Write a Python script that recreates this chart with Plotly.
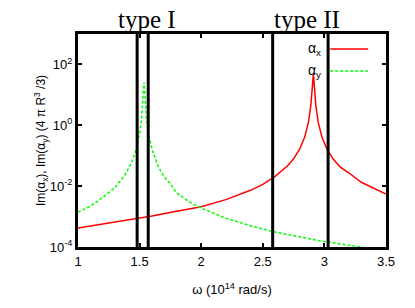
import plotly.graph_objects as go

# ---- data ----
omega_x = [1.0, 1.2, 1.4, 1.6, 1.8, 2.0, 2.2, 2.4, 2.5, 2.6, 2.7, 2.75, 2.8, 2.84, 2.87,
           2.89, 2.90, 2.905, 2.91, 2.915, 2.92, 2.93, 2.95, 2.98, 3.02, 3.07, 3.13,
           3.2, 3.3, 3.4, 3.5]
im_alpha_x = [4.2e-4, 5.6e-4, 7.6e-4, 1.05e-3, 1.5e-3, 2.1e-3, 3.6e-3, 7.3e-3, 1.15e-2,
              2.1e-2, 4.6e-2, 7.9e-2, 0.167, 0.41, 1.24, 4.6, 14.3, 30, 48, 30, 14.3,
              4.6, 1.24, 0.41, 0.167, 0.079, 0.042, 0.027, 0.0134, 8.5e-3, 5.5e-3]

omega_y = [1.0, 1.1, 1.2, 1.3, 1.38, 1.43, 1.47, 1.5, 1.515, 1.525, 1.531, 1.536, 1.541,
           1.547, 1.557, 1.572, 1.6, 1.65, 1.7, 1.75, 1.8, 1.9, 2.0, 2.2, 2.4, 2.6, 2.8,
           3.0, 3.2, 3.3, 3.4, 3.5]
im_alpha_y = [1.4e-3, 2.2e-3, 4.2e-3, 9e-3, 2.3e-2, 5.4e-2, 0.15, 0.53, 1.5, 4.7, 13.5,
              26, 13.5, 4.7, 1.5, 0.53, 0.17, 0.045, 0.02, 0.012, 6e-3, 3.1e-3, 1.9e-3,
              8.8e-4, 5.0e-4, 3.1e-4, 2.1e-4, 1.5e-4, 1.15e-4, 1.0e-4, 8.5e-5, 7.3e-5]

region_bounds = [1.48, 1.57, 2.58, 3.03]
region_labels = ["type I", "type II"]
region_label_pos = [1.56, 2.86]

x_ticks = [1, 1.5, 2, 2.5, 3, 3.5]
x_ticktext = ["1", "1.5", "2", "2.5", "3", "3.5"]
y_ticks = [1e-4, 1e-2, 1, 1e2]
y_ticktext = ["10<sup>-4</sup>", "10<sup>-2</sup>", "10<sup>0</sup>", "10<sup>2</sup>"]

RED = "#ff0000"
GREEN = "#00ff00"
FONT = "Liberation Sans, Arial, sans-serif"

fig = go.Figure()
fig.add_trace(go.Scatter(x=omega_x, y=im_alpha_x, mode="lines", name="αx",
                         line=dict(color=RED, width=1.5), showlegend=False))
fig.add_trace(go.Scatter(x=omega_y, y=im_alpha_y, mode="lines", name="αy",
                         line=dict(color=GREEN, width=1.5, dash="3px,2px"), showlegend=False))

shapes = []
for b in region_bounds:
    shapes.append(dict(type="line", xref="x", yref="paper", x0=b, x1=b, y0=0, y1=1,
                       line=dict(color="black", width=3), layer="above"))
# legend samples
shapes.append(dict(type="line", xref="paper", yref="paper", x0=0.819, x1=0.942,
                   y0=0.929, y1=0.929, line=dict(color=RED, width=1.5)))
shapes.append(dict(type="line", xref="paper", yref="paper", x0=0.819, x1=0.942,
                   y0=0.826, y1=0.826, line=dict(color=GREEN, width=1.5, dash="3px,2px")))

annotations = []
for lab, pos in zip(region_labels, region_label_pos):
    annotations.append(dict(text=lab, x=pos, xref="x", y=1, yref="paper",
                            yanchor="bottom", yshift=-1, showarrow=False,
                            font=dict(family="Liberation Serif, Times New Roman, serif",
                                      size=25, color="black")))
annotations.append(dict(text="α<sub>x</sub>", x=0.795, xref="paper", y=0.929, yref="paper",
                        xanchor="right", yanchor="middle", showarrow=False,
                        font=dict(family=FONT, size=14, color="black")))
annotations.append(dict(text="α<sub>y</sub>", x=0.795, xref="paper", y=0.826, yref="paper",
                        xanchor="right", yanchor="middle", showarrow=False,
                        font=dict(family=FONT, size=14, color="black")))

fig.update_layout(
    width=415, height=308,
    margin=dict(l=78, r=29, t=34, b=61, autoexpand=False),
    paper_bgcolor="white", plot_bgcolor="white",
    font=dict(family=FONT, size=13, color="black"),
    shapes=shapes, annotations=annotations,
    showlegend=False,
)
fig.update_xaxes(range=[1, 3.5], tickvals=x_ticks, ticktext=x_ticktext,
                 ticks="inside", ticklen=4, tickwidth=2, tickcolor="black",
                 showline=True, linewidth=3, linecolor="black", mirror="ticks",
                 showgrid=False, zeroline=False, automargin=False,
                 title=dict(text="ω (10<sup>14</sup> rad/s)", font=dict(size=13), standoff=18))
fig.update_yaxes(type="log", range=[-4, 3], tickvals=y_ticks, ticktext=y_ticktext,
                 ticks="inside", ticklen=4, tickwidth=2, tickcolor="black",
                 showline=True, linewidth=3, linecolor="black", mirror="ticks",
                 showgrid=False, zeroline=False, automargin=False,
                 title=dict(text="Im(α<sub>x</sub>), Im(α<sub>y</sub>) (4 π R<sup>3</sup> /3)",
                            font=dict(size=12), standoff=0))

# remove the default page margin so the figure fills the window exactly
fig.write_html("out.html",
               config={"displayModeBar": False},
               post_script="document.body.style.margin='0';document.body.style.overflow='hidden';")
